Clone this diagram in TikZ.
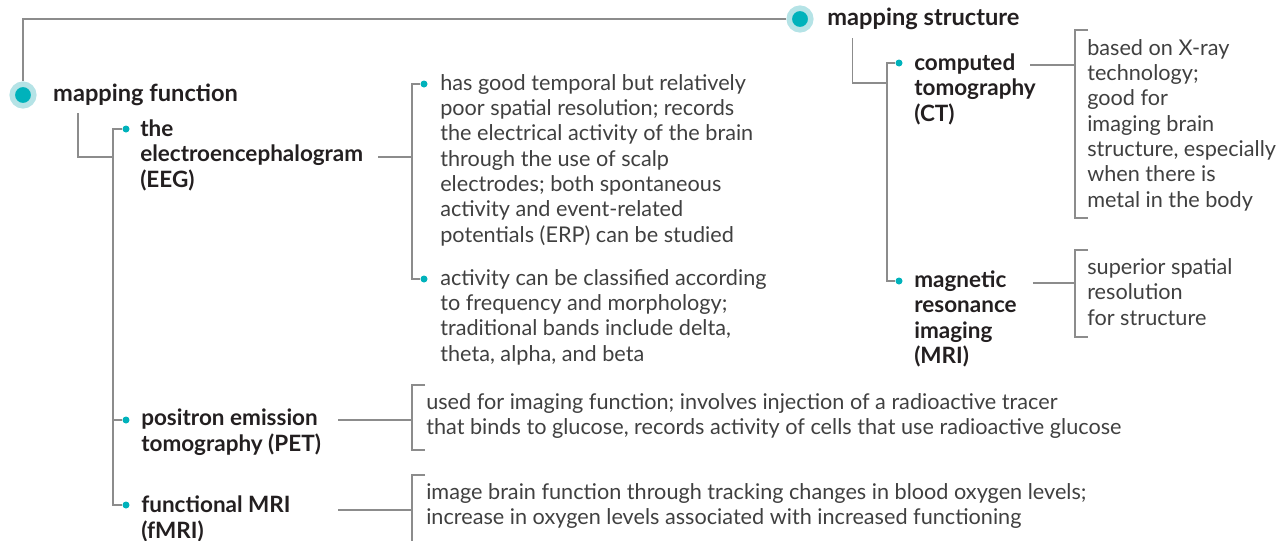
\documentclass[tikz,border=0pt]{standalone}
\usepackage{fontspec}
\setmainfont{Lato}
\usetikzlibrary{positioning,calc}

\definecolor{mapteal}{HTML}{00B2BB}
\definecolor{maphalo}{HTML}{B5E3E6}
\definecolor{linegray}{HTML}{8C8C8C}
\definecolor{descgray}{HTML}{404040}
\definecolor{labelblack}{HTML}{231F20}

\tikzset{
  conn/.style={draw=linegray, line width=0.9pt},
  bigdot/.style={circle, fill=mapteal, draw=maphalo, line width=0.1375cm, minimum size=0.54cm, inner sep=0},
  smalldot/.style={circle, fill=mapteal, minimum size=0.175cm, inner sep=0},
  toplabel/.style={font=\fontsize{16.8}{18}\selectfont\bfseries, text=labelblack, anchor=west, inner sep=0},
  sublabel/.style={font=\fontsize{16}{18.1}\selectfont\bfseries, text=labelblack, align=left, anchor=west, inner sep=0},
  desc/.style={font=\fontsize{15.4}{18}\selectfont, text=descgray, align=left, anchor=west, inner sep=0}
}

\begin{document}
\begin{tikzpicture}[x=0.025cm, y=-0.025cm]
\useasboundingbox (0,0) rectangle (1281,540);
\clip (0,0) rectangle (1281,540);

% main topics
\node[bigdot] (funcdot) at (23,95) {};
\node[toplabel, right=0.41cm of funcdot] (mapfun) {mapping function};
\node[bigdot] (structdot) at (800,19) {};
\node[toplabel, right=0.34cm of structdot] (mapstruct) {mapping structure};
\draw[conn] (structdot) -| (funcdot);

% function methods
\node[smalldot] (eegdot) at (126,129) {};
\node[smalldot] (petdot) at (126,420) {};
\node[smalldot] (fmridot) at (126,505) {};
\node[sublabel] (eeg) at (140,155) {the\\electroencephalogram\\(EEG)};
\node[sublabel] (pet) at (141,432) {positron emission\\tomography (PET)};
\node[sublabel] (fmri) at (141,519) {functional MRI\\(fMRI)};
\coordinate (eegjoin) at (113,157);
\draw[conn] (mapfun.south west) ++(25,7) |- (eegjoin);
\draw[conn] (eegdot) -- ++(-13,0) |- (fmridot);
\draw[conn] (petdot) -- ++(-13,0);

% EEG notes
\node[smalldot] (eegAdot) at (424,84) {};
\node[smalldot] (eegBdot) at (424,279) {};
\node[desc] (eegA) at (440,160) {has good temporal but relatively\\poor spatial resolution; records\\the electrical activity of the brain\\through the use of scalp\\electrodes; both spontaneous\\activity and event-related\\potentials (ERP) can be studied};
\node[desc] (eegB) at (440,317) {activity can be classified according\\to frequency and morphology;\\traditional bands include delta,\\theta, alpha, and beta};
\coordinate (eegbr) at (412,157);
\draw[conn] (eegbr -| eeg.east) ++(15,0) -- (eegbr);
\draw[conn] (eegAdot) -- ++(-12,0) |- (eegBdot);

% PET and fMRI notes
\node[desc] (petD) at (426,416) {used for imaging function; involves injection of a radioactive tracer\\that binds to glucose, records activity of cells that use radioactive glucose};
\node[desc] (fmriD) at (426,506) {image brain function through tracking changes in blood oxygen levels;\\increase in oxygen levels associated with increased functioning};
\coordinate (petbr) at (412,420);
\coordinate (fmribr) at (412,510);
\draw[conn] (425,385) -| (412,450) -- (425,450);
\draw[conn] (425,475) -| (412,560);
\draw[conn] (petbr -| pet.east) ++(17,0) -- (petbr);
\draw[conn] (fmribr -| pet.east) ++(17,0) -- (fmribr);

% structure methods
\node[smalldot] (ctdot) at (899,63) {};
\node[smalldot] (mridot) at (899,281) {};
\node[sublabel] (ct) at (914,89) {computed\\tomography\\(CT)};
\node[sublabel] (mri) at (914,319) {magnetic\\resonance\\imaging\\(MRI)};
\coordinate (ctjoin) at (887,83);
\draw[conn] (mapstruct.south west) ++(25,8) |- (ctjoin);
\draw[conn] (ctdot) -- ++(-12,0) |- (mridot);

% CT and MRI notes
\node[desc] (ctD) at (1087,125) {based on X-ray\\technology;\\good for\\imaging brain\\structure, especially\\when there is\\metal in the body};
\node[desc] (mriD) at (1087,292) {superior spatial\\resolution\\for structure};
\coordinate (ctbr) at (1075,65);
\coordinate (mribr) at (1075,283);
\draw[conn] (1088,30) -| (1075,218) -- (1088,218);
\draw[conn] (1088,250) -| (1075,337) -- (1088,337);
\draw[conn] (ctbr -| ct.east) ++(-6,0) -- (ctbr);
\draw[conn] (mribr -| mri.east) ++(16,0) -- (mribr);
\end{tikzpicture}
\end{document}
